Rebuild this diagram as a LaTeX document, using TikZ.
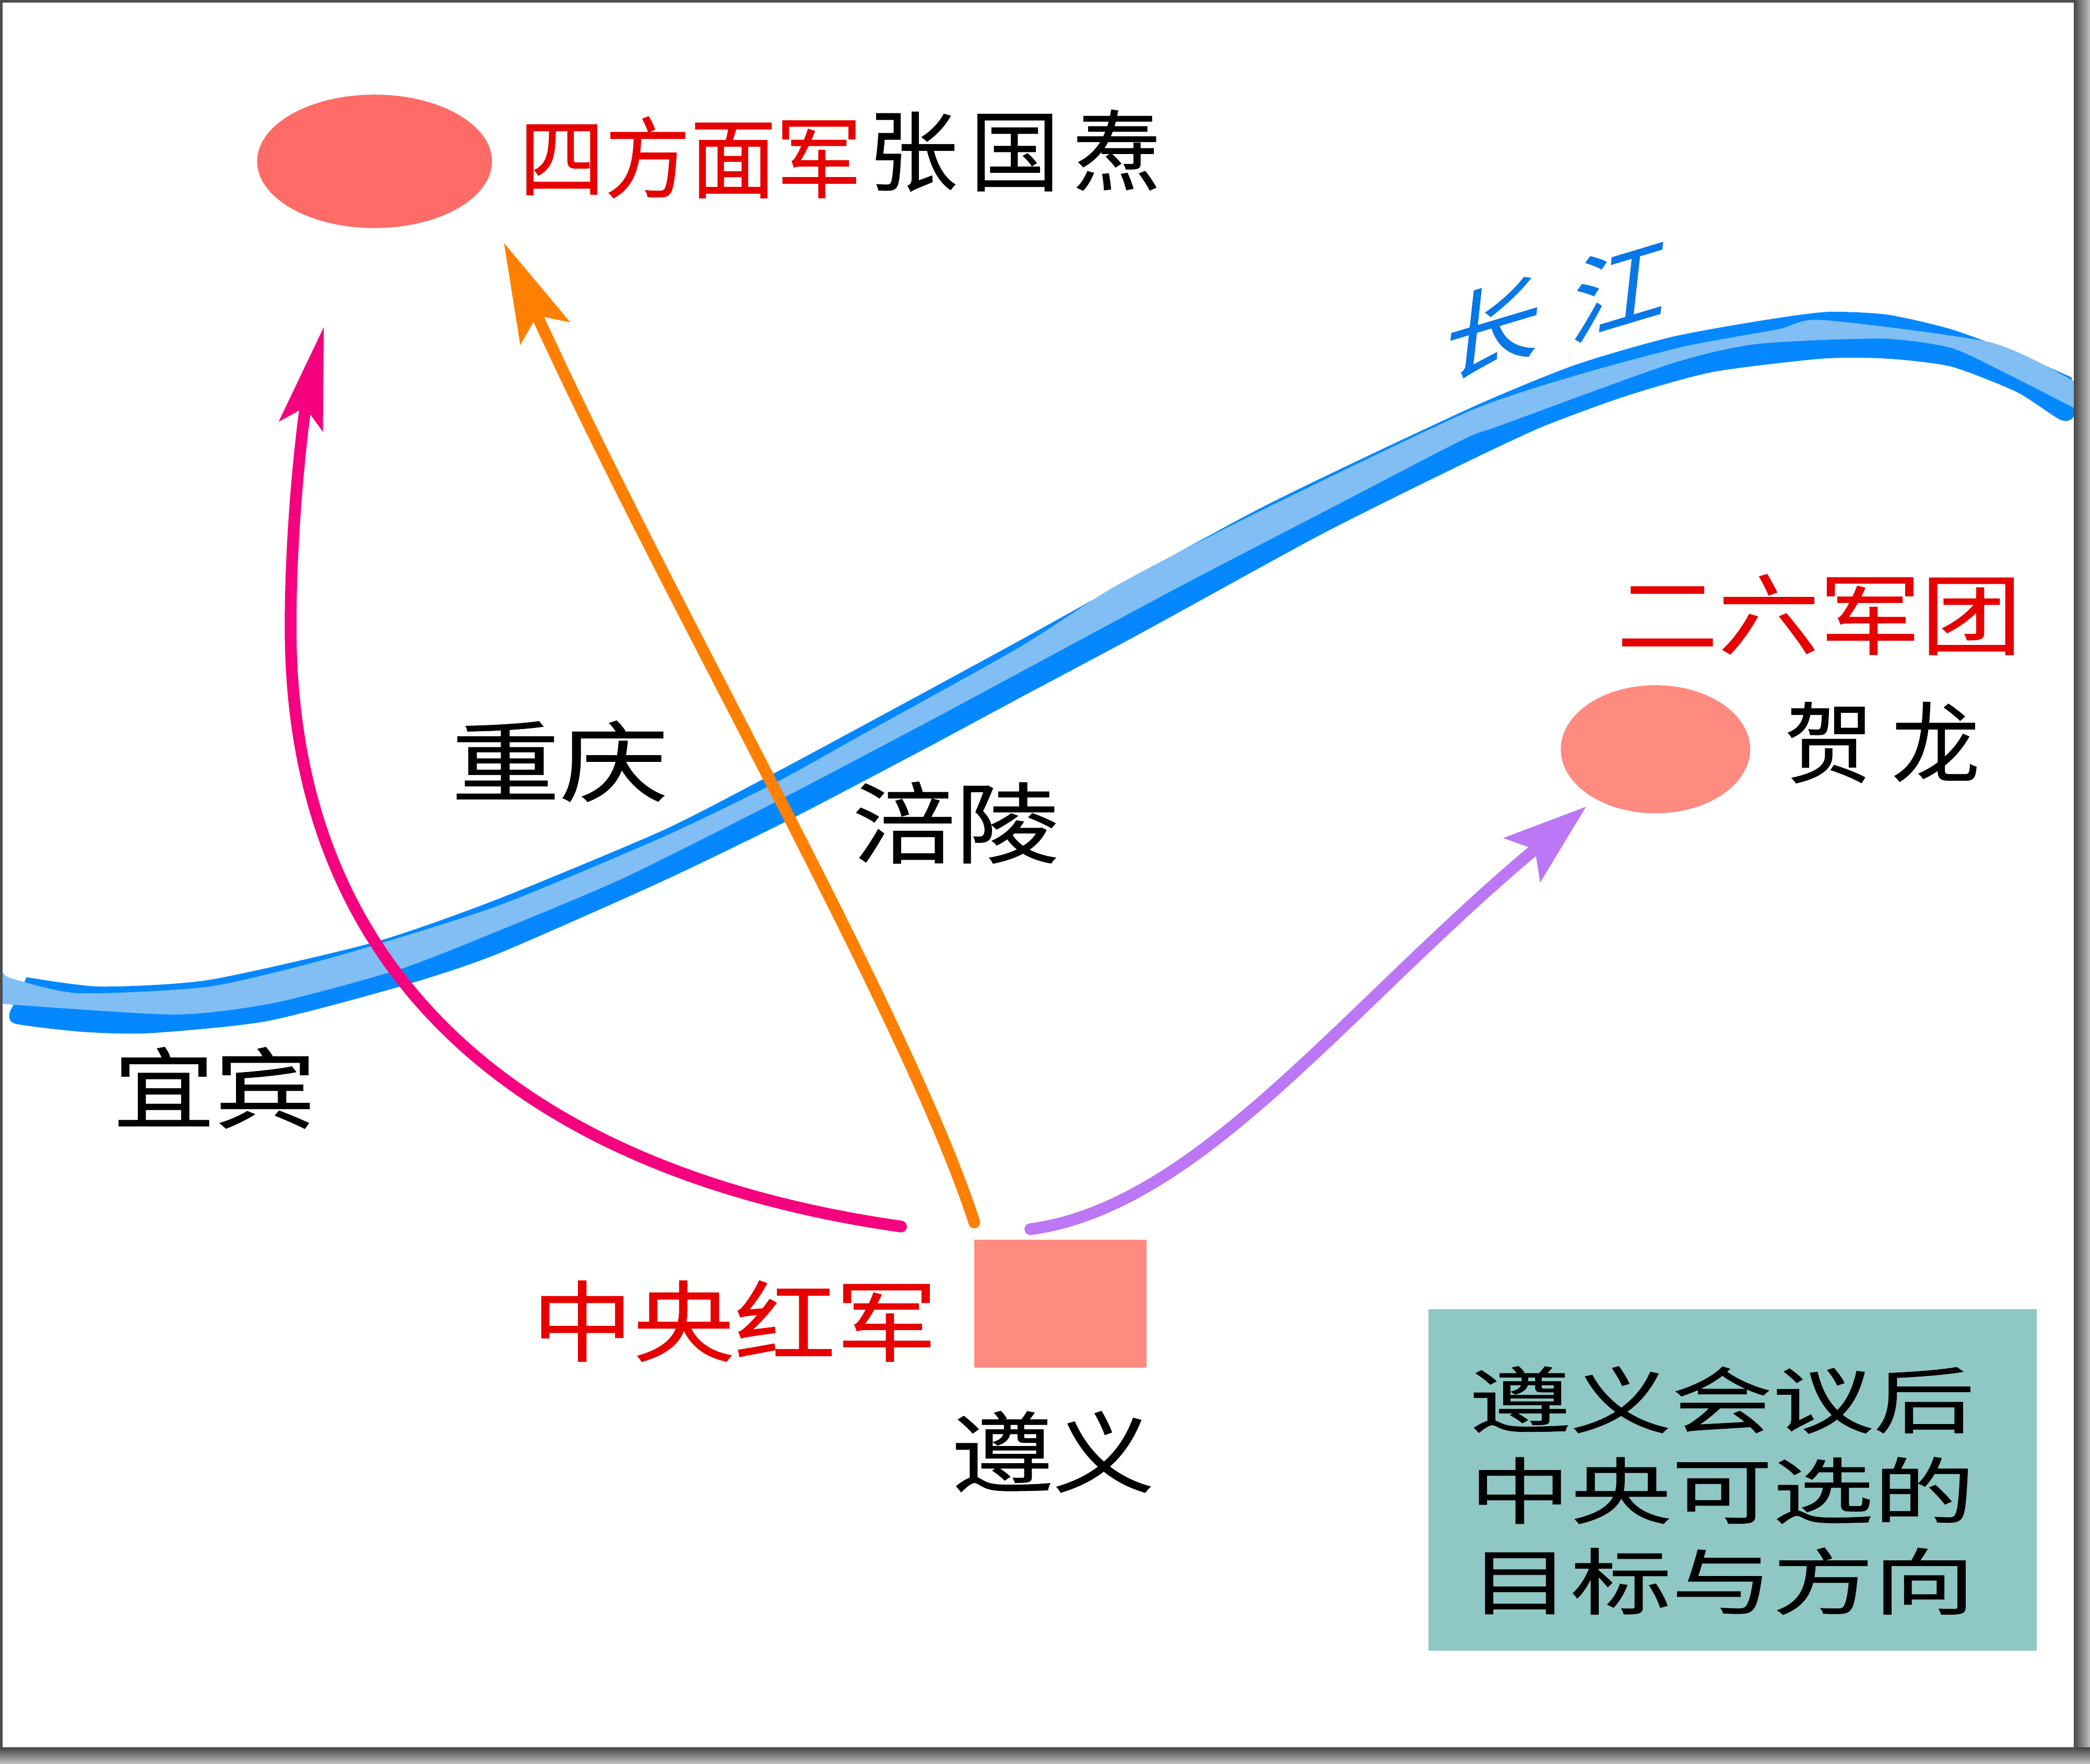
\documentclass[tikz,border=0pt]{standalone}
\usepackage{fontspec}
\usepackage{xcolor}
\usepackage{tikz}
\usetikzlibrary{arrows.meta,shapes.geometric}

\newfontfamily\cjk[FakeBold=0.6]{Noto Sans CJK SC}

\definecolor{riverdark}{HTML}{0588FF}
\definecolor{riverlight}{HTML}{80BEF4}
\definecolor{rivertext}{HTML}{0877E8}
\definecolor{armyred}{HTML}{E60000}
\definecolor{spotdark}{HTML}{FF6B66}
\definecolor{spotlight}{HTML}{FF8A80}
\definecolor{notecolor}{HTML}{8FC7C4}
\definecolor{routepink}{HTML}{F5007F}
\definecolor{routeorange}{HTML}{FF8000}
\definecolor{routepurple}{HTML}{BB77F5}

\tikzset{
    place/.style={font=\cjk\fontsize{18.8}{21}\selectfont, inner sep=0pt, text=black, transform shape, xscale=1.15},
    army/.style={place, text=armyred},
    route/.style={line width=2.5pt, line cap=round},
    spot/.style={ellipse, inner sep=0pt},
}

\begin{document}
\begin{tikzpicture}[x=0.01cm, y=-0.01cm]
        \useasboundingbox (0,0) rectangle (1568,1323);
        \fill[white] (0,0) rectangle (1568,1323);

        % river
        \fill[riverdark] plot[smooth, tension=0.4] coordinates {(20,733) (75,740) (157,735) (280,707) (372,675) (497,623) (579,581) (672,531) (764,481) (944,382) (1101,307) (1181,274) (1253,253) (1318,241) (1370,234) (1416,236) (1464,247) (1513,265) (1554,283)}
            -- plot[smooth, tension=0.4] coordinates {(1556,290) (1556,312) (1546,315) (1513,294) (1464,275) (1416,269) (1367,269) (1285,279) (1220,297) (1155,321) (1085,354) (989,402) (854,476) (764,524) (697,560) (594,614) (497,661) (372,716) (300,740) (200,766) (112,775) (62,774) (12,768) (7,761) (10,754)} -- cycle;
        \fill[riverlight] plot[smooth, tension=0.4] coordinates {(2,729) (9,734) (59,745) (157,740) (250,718) (372,680) (497,628) (582,587) (647,551) (764,486) (838,439) (944,384) (1101,309) (1181,282) (1263,260) (1334,247) (1367,240) (1494,257) (1556,286)}
            -- plot[smooth, tension=0.4] coordinates {(1556,306) (1507,281) (1464,261) (1412,254) (1318,258) (1253,273) (1126,319) (1097,330) (989,386) (885,440) (764,505) (697,541) (579,603) (467,659) (372,699) (300,727) (207,752) (131,761) (2,753)} -- cycle;
        \node[inner sep=0pt, font=\cjk\fontsize{20.5}{22}\selectfont, text=rivertext, transform shape, cm={1,0.3,0.11,1,(0,0)}] (river) at (1168,231) {长\hspace{0.23cm}江};

        % spots
        \node[spot, fill=spotdark, minimum width=1.76cm, minimum height=1cm] (fourth) at (281,121) {};
        \node[spot, fill=spotlight, minimum width=1.42cm, minimum height=0.96cm] (second) at (1242,562) {};
        \node[fill=spotlight, inner sep=0pt, minimum width=1.29cm, minimum height=0.96cm] (zunyi) at (795.5,978) {};
        \node[fill=notecolor, inner sep=0pt, minimum width=4.56cm, minimum height=2.56cm] (notebox) at (1300,1110) {};

        % labels
        \node[army, xscale=0.845] (fourthname) at (518,118) {四方面军};
        \node[place, xscale=0.885, right of=fourthname, node distance=2.39cm, yshift=0.05cm] (zhang) {张\hspace{0.09cm}国\hspace{0.09cm}焘};
        \node[army] (secondname) at (1365,461) {二六军团};
        \node[place, xscale=0.87, right of=second, node distance=1.7cm, yshift=0.05cm] (helong) {贺\hspace{0.14cm}龙};
        \node[place, xscale=1.07] (chongqing) at (420,571) {重庆};
        \node[place, xscale=1.02] (fuling) at (717,617) {涪陵};
        \node[place] (yibin) at (161,816) {宜宾};
        \node[army] (centername) at (551,991) {中央红军};
        \node[place] (zunyiname) at (790,1089) {遵义};
        \node[font=\cjk\fontsize{15.4}{19.35}\selectfont, inner sep=0pt, align=center, transform shape, xscale=1.4] (note) at (1292,1118) {遵义会议后\\中央可选的\\目标与方向};

        % routes
        \coordinate (pinkfrom) at (676,920);
        \coordinate (pinkto) at (243,245);
        \coordinate (orangefrom) at (731,917);
        \coordinate (orangeto) at (378,182);
        \coordinate (purplefrom) at (773,922);
        \coordinate (purpleto) at (1190,605);
        \draw[route, routepink, -{Stealth[length=0.76cm, width=0.33cm, inset=0.14cm]}] (pinkfrom) .. controls (430,885) and (218,760) .. (218,470) .. controls (218,390) and (228,310) .. (pinkto);
        \draw[route, routeorange, -{Stealth[length=0.74cm, width=0.4cm, inset=0.14cm]}] (orangefrom) .. controls (680,760) and (500,450) .. (orangeto);
        \draw[route, routepurple, -{Stealth[length=0.62cm, width=0.42cm, inset=0.12cm]}] (purplefrom) .. controls (900,905) and (1010,755) .. (purpleto);

        % frame
        \fill[black!70] (0,0) rectangle (1568,2);
        \fill[black!70] (0,0) rectangle (2,1323);
        \shade[left color=black!72, right color=black!25] (1556,0) rectangle (1568,1323);
        \shade[top color=black!72, bottom color=black!25] (0,1311) rectangle (1568,1323);
    \end{tikzpicture}
\end{document}
